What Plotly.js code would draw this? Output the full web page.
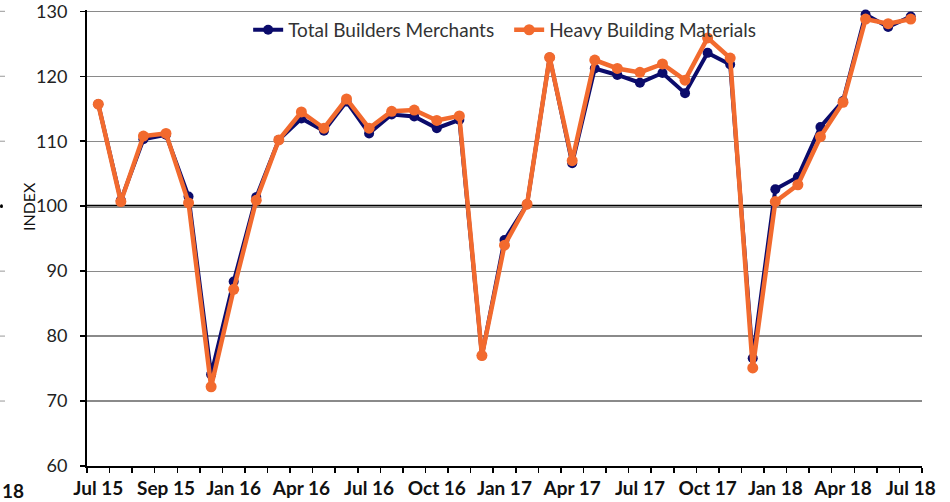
<!DOCTYPE html>
<html>
<head>
<meta charset="utf-8">
<script src="https://cdn.plot.ly/plotly-3.0.1.min.js"></script>
<style>html,body{margin:0;padding:0;background:#fff;}#chart{width:950px;height:502px;}</style>
</head>
<body>
<div id="chart"></div>
<script>
const months = ["Jul 15","Aug 15","Sep 15","Oct 15","Nov 15","Dec 15",
  "Jan 16","Feb 16","Mar 16","Apr 16","May 16","Jun 16","Jul 16","Aug 16","Sep 16","Oct 16","Nov 16","Dec 16",
  "Jan 17","Feb 17","Mar 17","Apr 17","May 17","Jun 17","Jul 17","Aug 17","Sep 17","Oct 17","Nov 17","Dec 17",
  "Jan 18","Feb 18","Mar 18","Apr 18","May 18","Jun 18","Jul 18"];
const totalBuildersMerchants = [115.7,100.9,110.3,111.0,101.5,74.1,
  88.4,101.4,110.2,113.5,111.6,116.1,111.2,114.1,113.8,112.0,113.3,77.0,
  94.8,100.3,122.9,106.6,121.2,120.2,119.0,120.5,117.4,123.6,121.8,76.6,
  102.6,104.5,112.2,116.2,129.5,127.6,129.2];
const heavyBuildingMaterials = [115.7,100.7,110.8,111.2,100.5,72.2,
  87.2,100.9,110.2,114.5,112.0,116.5,112.0,114.6,114.8,113.2,113.9,77.0,
  94.0,100.3,122.9,107.0,122.5,121.2,120.6,121.9,119.4,125.9,122.8,75.1,
  100.7,103.3,110.7,116.0,128.8,128.1,128.8];
const tickMonths = ["Jul 15","Oct 15","Jan 16","Apr 16","Jul 16","Oct 16","Jan 17","Apr 17","Jul 17","Oct 17","Jan 18","Apr 18","Jul 18"];
const tickLabels = ["Jul 15","Sep 15","Jan 16","Apr 16","Jul 16","Oct 16","Jan 17","Apr 17","Jul 17","Oct 17","Jan 18","Apr 18","Jul 18"];
const yTicks = [60,70,80,90,100,110,120,130];

const tickText = months.map(m => { const i = tickMonths.indexOf(m); return i >= 0 ? tickLabels[i] : ""; });

const traces = [
  {x: months, y: totalBuildersMerchants, name: "Total Builders Merchants", type: "scatter", mode: "lines+markers",
   line: {color: "#0b0b6b", width: 4}, marker: {color: "#0b0b6b", size: 10}, cliponaxis: false},
  {x: months, y: heavyBuildingMaterials, name: "Heavy Building Materials", type: "scatter", mode: "lines+markers",
   line: {color: "#f26a2e", width: 4.5}, marker: {color: "#f26a2e", size: 11}, cliponaxis: false}
];

const leftDashes = [130,120,110,90,80,70].map(v => ({type: "line", xref: "paper", yref: "y",
  x0: -0.1042, x1: -0.0982, y0: v, y1: v, line: {color: "#999", width: 1}}));

const layout = {
  width: 950, height: 502,
  margin: {l: 87, r: 28, t: 10, b: 36, autoexpand: false},
  paper_bgcolor: "#fff", plot_bgcolor: "#fff",
  showlegend: true,
  legend: {orientation: "h", x: 0.193, y: 0.998, xanchor: "left", yanchor: "top",
    bgcolor: "rgba(0,0,0,0)", font: {family: "Lato, sans-serif", size: 19, color: "#333"},
    itemwidth: 30, traceorder: "normal", entrywidth: 216, entrywidthmode: "pixels"},
  xaxis: {type: "category", categoryorder: "array", categoryarray: months,
    range: [-0.5, months.length - 0.5], automargin: false,
    tickmode: "array", tickvals: months, ticktext: tickText, tickson: "boundaries",
    ticks: "outside", ticklen: 5, tickwidth: 1.5, tickcolor: "#000", ticklabelstandoff: 4,
    showgrid: false, showline: true, linecolor: "#000", linewidth: 2, zeroline: false,
    tickangle: 0, ticklabeloverflow: "allow",
    tickfont: {family: "Lato, sans-serif", size: 19, color: "#111", weight: "bold"}},
  yaxis: {range: [60, 130.2], tickmode: "array", tickvals: yTicks, automargin: false,
    ticks: "outside", ticklen: 5, tickwidth: 1.5, tickcolor: "#000", ticklabelstandoff: 9,
    ticklabeloverflow: "allow",
    showgrid: true, gridcolor: "#8a8a8a", gridwidth: 1.2,
    showline: true, linecolor: "#000", linewidth: 2, zeroline: false,
    tickfont: {family: "Lato, sans-serif", size: 18, color: "#222"}},
  shapes: [
    {type: "line", xref: "paper", yref: "y", x0: 0, x1: 1, y0: 100, y1: 100,
     line: {color: "#000", width: 2.6}, layer: "between"},
    {type: "circle", xref: "paper", yref: "y", x0: -0.1042, x1: -0.1006, y0: 99.7, y1: 100.3,
     fillcolor: "#000", line: {width: 0}}
  ].concat(leftDashes),
  annotations: [
    {text: "INDEX", xref: "paper", yref: "paper", x: -0.0707, y: 0.57, xanchor: "center", yanchor: "middle",
     textangle: -90, showarrow: false, font: {family: "Lato, sans-serif", size: 16, color: "#111"}},
    {text: "<b>18</b>", xref: "paper", yref: "paper", x: -0.1042, y: -0.053, xanchor: "left", yanchor: "middle",
     showarrow: false, font: {family: "Lato, sans-serif", size: 19, color: "#111"}}
  ]
};

Plotly.newPlot("chart", traces, layout, {displayModeBar: false, staticPlot: true});
</script>
</body>
</html>
